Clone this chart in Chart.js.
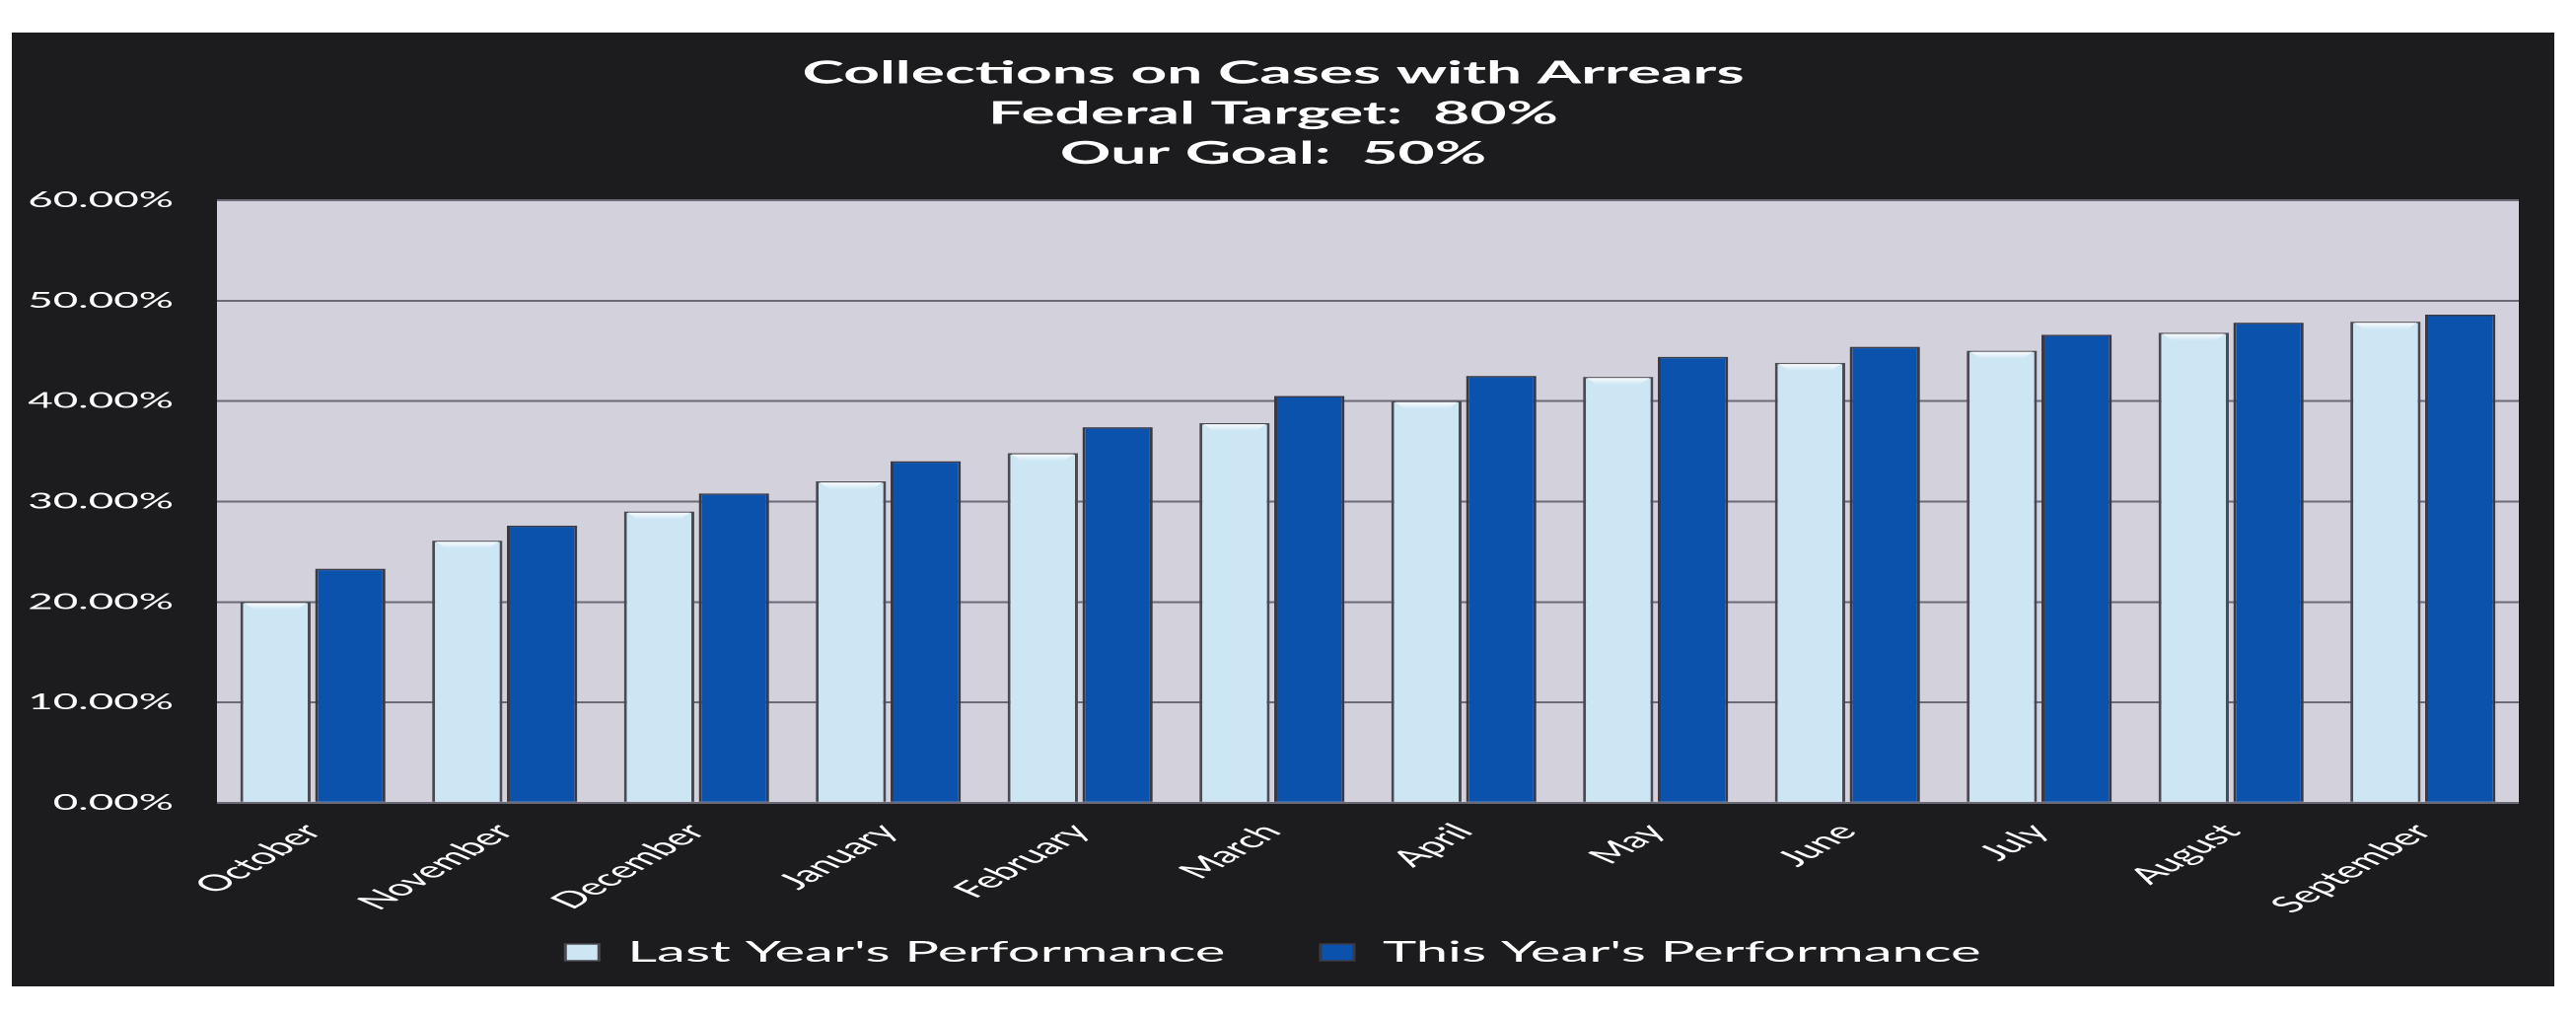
<!DOCTYPE html>
<html lang="en">
<head>
    <meta charset="UTF-8">
    <title>Collections on Cases with Arrears</title>
    <style>
        html, body {
            margin: 0;
            padding: 0;
            background-color: #fff;
            overflow: hidden;
        }
        /* the original slide was pasted stretched about 2x wide, so the whole chart is drawn narrow and widened */
        .stretch {
            position: absolute;
            left: 0;
            top: 0;
            width: 1306px;
            height: 1028px;
            transform: scaleX(2);
            transform-origin: 0 0;
        }
        .panel {
            position: absolute;
            left: 6px;
            top: 33px;
            width: 1289px;
            height: 967px;
            background-color: #1c1c1e;
        }
    </style>
    <script src="https://cdn.jsdelivr.net/npm/chart.js"></script>
</head>
<body>
    <div class="stretch">
        <div class="panel">
            <canvas id="arrearsChart"></canvas>
        </div>
    </div>

    <script>
        const months = ['October', 'November', 'December', 'January', 'February', 'March',
                        'April', 'May', 'June', 'July', 'August', 'September'];
        const lastYear = [20.0, 26.1, 29.0, 32.0, 34.8, 37.8, 40.0, 42.4, 43.8, 45.0, 46.8, 47.9];
        const thisYear = [23.3, 27.6, 30.8, 34.0, 37.4, 40.5, 42.5, 44.4, 45.4, 46.6, 47.8, 48.6];
        const titleLines = ['Collections on Cases with Arrears', 'Federal Target:  80%', 'Our Goal:  50%'];

        // grey plot background
        const plotBackground = {
            id: 'plotBackground',
            beforeDraw(chart) {
                const { ctx, chartArea } = chart;
                ctx.save();
                ctx.fillStyle = '#d3d1dc';
                ctx.fillRect(chartArea.left, chartArea.top, chartArea.right - chartArea.left, chartArea.bottom - chartArea.top);
                ctx.restore();
            }
        };

        // small white bevel on top of the pale bars
        const barBevel = {
            id: 'barBevel',
            afterDatasetsDraw(chart) {
                const ctx = chart.ctx;
                chart.getDatasetMeta(0).data.forEach(bar => {
                    const w = bar.width;
                    const x0 = bar.x - w / 2 + 2;
                    const x1 = bar.x + w / 2 - 2;
                    ctx.save();
                    const g = ctx.createLinearGradient(0, bar.y, 0, bar.y + 8);
                    g.addColorStop(0, 'rgba(255,255,255,1)');
                    g.addColorStop(1, 'rgba(255,255,255,0)');
                    ctx.fillStyle = g;
                    ctx.beginPath();
                    ctx.moveTo(x0, bar.y + 1);
                    ctx.lineTo(x1, bar.y + 1);
                    ctx.lineTo(x1 - 5, bar.y + 8);
                    ctx.lineTo(x0 + 5, bar.y + 8);
                    ctx.closePath();
                    ctx.fill();
                    ctx.restore();
                });
            }
        };

        new Chart(document.getElementById('arrearsChart'), {
            type: 'bar',
            data: {
                labels: months,
                datasets: [
                    {
                        label: "Last Year's Performance",
                        data: lastYear,
                        backgroundColor: '#cde6f4',
                        borderColor: '#4a4a52',
                        borderWidth: 1.5,
                        barPercentage: 0.94,
                        categoryPercentage: 0.78
                    },
                    {
                        label: "This Year's Performance",
                        data: thisYear,
                        backgroundColor: '#0a52ac',
                        borderColor: '#3a3a44',
                        borderWidth: 1.5,
                        barPercentage: 0.94,
                        categoryPercentage: 0.78
                    }
                ]
            },
            plugins: [plotBackground, barBevel],
            options: {
                responsive: true,
                maintainAspectRatio: false,
                animation: false,
                devicePixelRatio: 2,
                layout: {
                    padding: { left: 8, right: 18, top: 0, bottom: 10 }
                },
                scales: {
                    x: {
                        grid: { display: false },
                        border: { display: false },
                        ticks: {
                            color: '#fff',
                            font: { family: 'Lato', size: 23 },
                            maxRotation: 49,
                            minRotation: 49,
                            padding: 8
                        },
                        // let the first rotated label hang left under the y labels
                        afterFit(scale) {
                            scale.paddingLeft = 0;
                            scale.paddingRight = 0;
                        }
                    },
                    y: {
                        min: 0,
                        max: 60,
                        border: { display: false },
                        grid: { color: '#6c6a76', lineWidth: 2, drawTicks: false },
                        ticks: {
                            stepSize: 10,
                            color: '#fff',
                            padding: 22,
                            font: { family: 'Lato', size: 22 },
                            callback: v => v.toFixed(2) + '%'
                        },
                        afterFit(scale) {
                            scale.width = 96;
                        }
                    }
                },
                plugins: {
                    title: {
                        display: true,
                        text: titleLines,
                        color: '#fff',
                        font: { family: 'Lato', size: 32, weight: 'bold', lineHeight: 1.27 },
                        padding: { top: 21, bottom: 27 }
                    },
                    legend: {
                        position: 'bottom',
                        labels: {
                            color: '#fff',
                            boxWidth: 17,
                            boxHeight: 17,
                            padding: 12,
                            font: { family: 'Lato', size: 29 },
                            // wider gap after the first item without growing the legend's height
                            generateLabels(chart) {
                                const items = Chart.defaults.plugins.legend.labels.generateLabels(chart);
                                items.forEach((item, i) => {
                                    if (i < items.length - 1) item.text += '\u2003\u2002';
                                });
                                return items;
                            }
                        }
                    },
                    tooltip: { enabled: false }
                }
            }
        });
    </script>
</body>
</html>
